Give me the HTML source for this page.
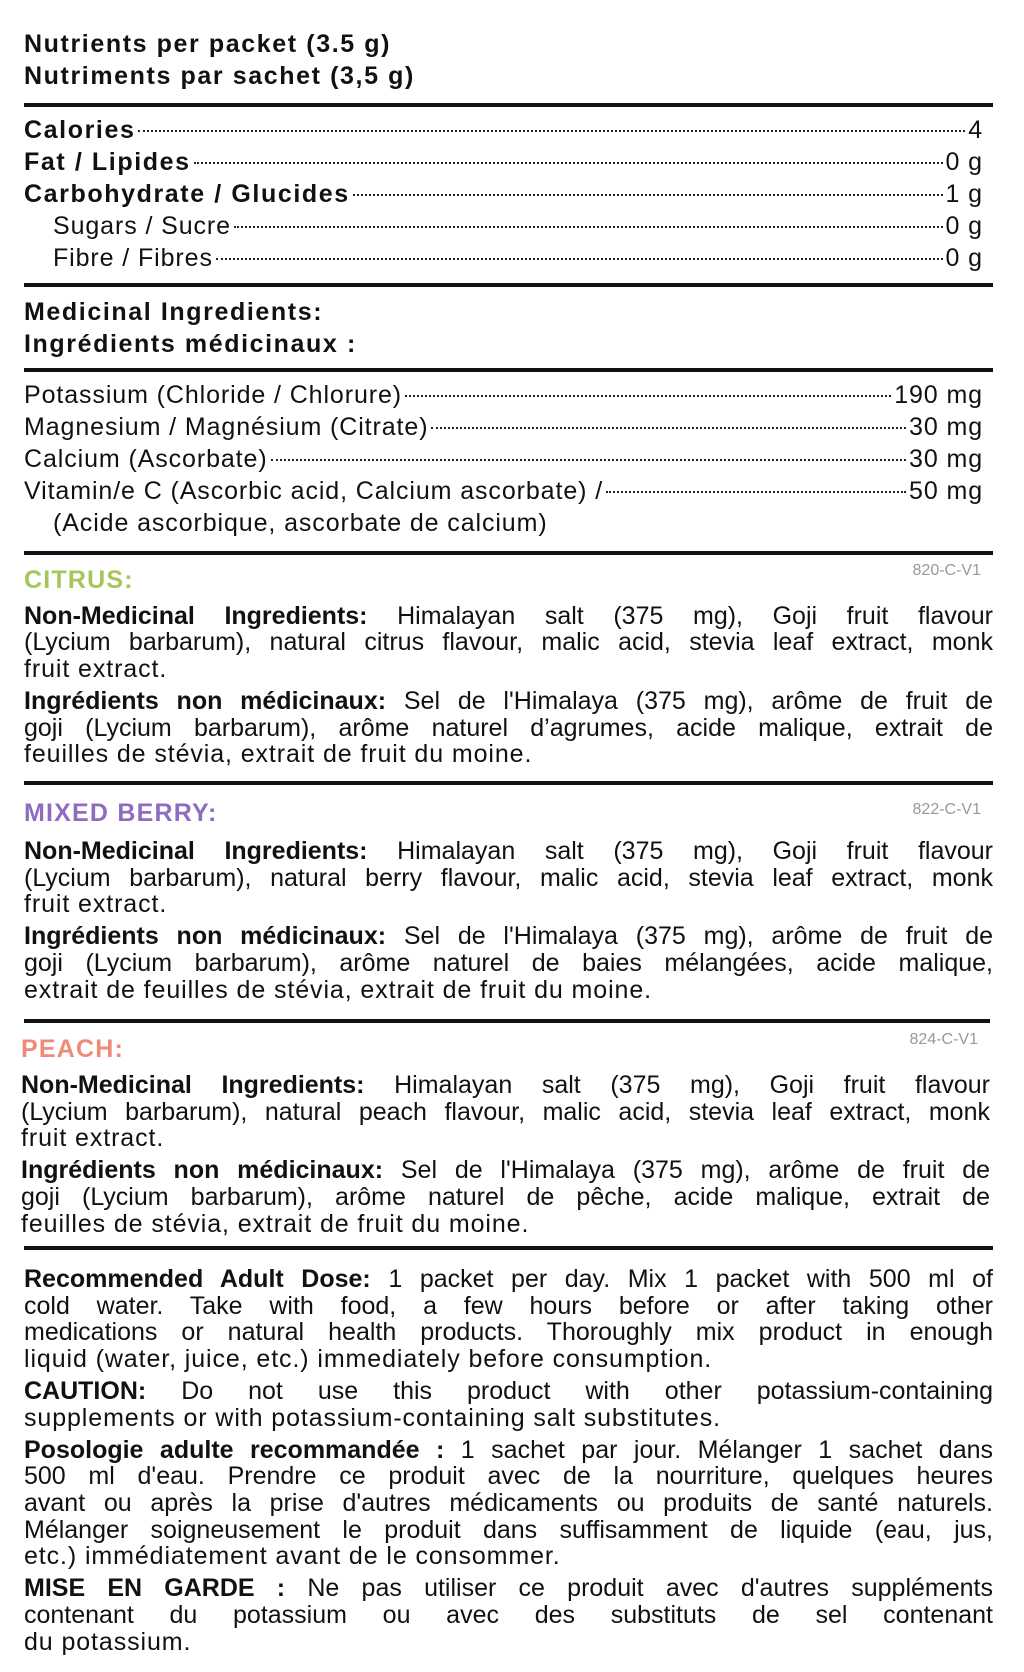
<!DOCTYPE html>
<html><head><meta charset="utf-8"><style>
body{margin:0;background:#fff;}
#p{position:relative;width:1024px;height:1672px;overflow:hidden;font-family:"Liberation Sans",sans-serif;color:#111;font-size:25px;}
.l{position:absolute;left:24px;width:969px;height:28px;line-height:28px;white-space:nowrap;letter-spacing:0.9px;}
.j{text-align:justify;text-align-last:justify;white-space:normal;overflow:hidden;letter-spacing:0;}
.r{position:absolute;left:24px;width:969px;height:3.5px;background:#111;}
.b{font-weight:bold;letter-spacing:1.6px;}
.d{display:flex;align-items:baseline;}
.d .f{flex:1;border-bottom:2px dotted #222;margin:0 3px;position:relative;top:-6px;}
.c{position:absolute;font-size:16px;color:#999;height:20px;line-height:20px;text-align:right;}
.h{font-weight:bold;font-size:25px;letter-spacing:1.2px;}
</style></head><body><div id="p">
<div class="l b" style="top:30px">Nutrients per packet (3.5 g)</div>
<div class="l b" style="top:62px">Nutriments par sachet (3,5 g)</div>
<div class="r" style="top:103px"></div>
<div class="l d" style="top:116px;width:959px"><span class="b">Calories</span><span class="f"></span><span>4</span></div>
<div class="l d" style="top:148px;width:959px"><span class="b">Fat / Lipides</span><span class="f"></span><span>0 g</span></div>
<div class="l d" style="top:180px;width:959px"><span class="b">Carbohydrate / Glucides</span><span class="f"></span><span>1 g</span></div>
<div class="l d" style="top:212px;left:53px;width:930px"><span>Sugars / Sucre</span><span class="f"></span><span>0 g</span></div>
<div class="l d" style="top:244px;left:53px;width:930px"><span>Fibre / Fibres</span><span class="f"></span><span>0 g</span></div>
<div class="r" style="top:283px"></div>
<div class="l b" style="top:298px">Medicinal Ingredients:</div>
<div class="l b" style="top:330px">Ingrédients médicinaux :</div>
<div class="r" style="top:368px"></div>
<div class="l d" style="top:381px;width:959px"><span>Potassium (Chloride / Chlorure)</span><span class="f"></span><span>190 mg</span></div>
<div class="l d" style="top:413px;width:959px"><span>Magnesium / Magnésium (Citrate)</span><span class="f"></span><span>30 mg</span></div>
<div class="l d" style="top:445px;width:959px"><span>Calcium (Ascorbate)</span><span class="f"></span><span>30 mg</span></div>
<div class="l d" style="top:477px;width:959px"><span>Vitamin/e C (Ascorbic acid, Calcium ascorbate) /</span><span class="f"></span><span>50 mg</span></div>
<div class="l" style="top:509px;left:53px">(Acide ascorbique, ascorbate de calcium)</div>
<div class="r" style="top:551px"></div>

<div class="l h" style="top:566px;color:#a6c65c">CITRUS:</div>
<div class="c" style="top:561px;right:43px">820-C-V1</div>
<div class="l j" style="top:602px"><b>Non-Medicinal Ingredients:</b> Himalayan salt (375 mg), Goji fruit flavour</div>
<div class="l j" style="top:628px">(Lycium barbarum), natural citrus flavour, malic acid, stevia leaf extract, monk</div>
<div class="l" style="top:655px">fruit extract.</div>
<div class="l j" style="top:687px"><b>Ingrédients non médicinaux:</b> Sel de l'Himalaya (375 mg), arôme de fruit de</div>
<div class="l j" style="top:714px">goji (Lycium barbarum), arôme naturel d’agrumes, acide malique, extrait de</div>
<div class="l" style="top:740px">feuilles de stévia, extrait de fruit du moine.</div>
<div class="r" style="top:781px"></div>

<div class="l h" style="top:799px;color:#8e6cbf">MIXED BERRY:</div>
<div class="c" style="top:800px;right:43px">822-C-V1</div>
<div class="l j" style="top:837px"><b>Non-Medicinal Ingredients:</b> Himalayan salt (375 mg), Goji fruit flavour</div>
<div class="l j" style="top:864px">(Lycium barbarum), natural berry flavour, malic acid, stevia leaf extract, monk</div>
<div class="l" style="top:890px">fruit extract.</div>
<div class="l j" style="top:922px"><b>Ingrédients non médicinaux:</b> Sel de l'Himalaya (375 mg), arôme de fruit de</div>
<div class="l j" style="top:949px">goji (Lycium barbarum), arôme naturel de baies mélangées, acide malique,</div>
<div class="l" style="top:976px">extrait de feuilles de stévia, extrait de fruit du moine.</div>
<div class="r" style="top:1019px;width:966px"></div>

<div class="l h" style="top:1035px;left:21px;color:#f08a78">PEACH:</div>
<div class="c" style="top:1030px;right:46px">824-C-V1</div>
<div class="l j" style="top:1071px;left:21px;width:969px"><b>Non-Medicinal Ingredients:</b> Himalayan salt (375 mg), Goji fruit flavour</div>
<div class="l j" style="top:1098px;left:21px;width:969px">(Lycium barbarum), natural peach flavour, malic acid, stevia leaf extract, monk</div>
<div class="l" style="top:1124px;left:21px">fruit extract.</div>
<div class="l j" style="top:1156px;left:21px;width:969px"><b>Ingrédients non médicinaux:</b> Sel de l'Himalaya (375 mg), arôme de fruit de</div>
<div class="l j" style="top:1183px;left:21px;width:969px">goji (Lycium barbarum), arôme naturel de pêche, acide malique, extrait de</div>
<div class="l" style="top:1210px;left:21px">feuilles de stévia, extrait de fruit du moine.</div>
<div class="r" style="top:1246px"></div>

<div class="l j" style="top:1265px"><b>Recommended Adult Dose:</b> 1 packet per day. Mix 1 packet with 500 ml of</div>
<div class="l j" style="top:1292px">cold water. Take with food, a few hours before or after taking other</div>
<div class="l j" style="top:1318px">medications or natural health products. Thoroughly mix product in enough</div>
<div class="l" style="top:1345px">liquid (water, juice, etc.) immediately before consumption.</div>
<div class="l j" style="top:1377px"><b>CAUTION:</b> Do not use this product with other potassium-containing</div>
<div class="l" style="top:1404px">supplements or with potassium-containing salt substitutes.</div>
<div class="l j" style="top:1436px"><b>Posologie adulte recommandée :</b> 1 sachet par jour. Mélanger 1 sachet dans</div>
<div class="l j" style="top:1462px">500 ml d'eau. Prendre ce produit avec de la nourriture, quelques heures</div>
<div class="l j" style="top:1489px">avant ou après la prise d'autres médicaments ou produits de santé naturels.</div>
<div class="l j" style="top:1516px">Mélanger soigneusement le produit dans suffisamment de liquide (eau, jus,</div>
<div class="l" style="top:1542px">etc.) immédiatement avant de le consommer.</div>
<div class="l j" style="top:1574px"><b>MISE EN GARDE :</b> Ne pas utiliser ce produit avec d'autres suppléments</div>
<div class="l j" style="top:1601px">contenant du potassium ou avec des substituts de sel contenant</div>
<div class="l" style="top:1628px">du potassium.</div>
</div></body></html>
